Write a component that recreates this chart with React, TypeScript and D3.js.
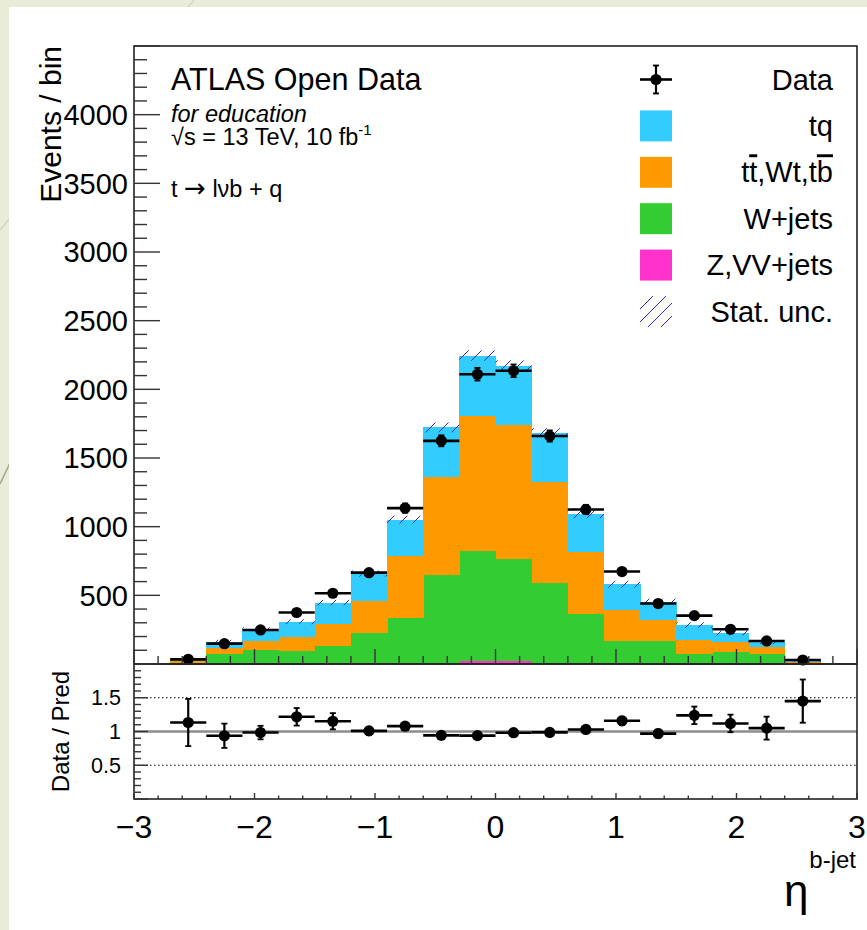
import React from "react";
import * as d3 from "d3";

// Histogram binning in eta of the b-tagged jet (bin lower edges, width 0.3)
const binLow = [-2.7, -2.4, -2.1, -1.8, -1.5, -1.2, -0.9, -0.6, -0.3, 0, 0.3, 0.6, 0.9, 1.2, 1.5, 1.8, 2.1, 2.4];
const binWidth = 0.3;

// Stacked predictions (events per bin), bottom to top
const zvvJets = [1, 2, 2, 3, 5, 6, 7, 9, 22, 20, 8, 6, 5, 2, 1, 1, 1, 0];
const wJets = [9, 73, 100, 92, 126, 218, 331, 638, 802, 748, 583, 361, 165, 168, 74, 84, 70, 3];
const topBkg = [12, 39, 68, 105, 158, 235, 450, 712, 982, 975, 731, 448, 224, 149, 102, 75, 53, 8];
const tqSignal = [8, 44, 82, 108, 158, 200, 264, 364, 440, 430, 361, 277, 187, 135, 107, 66, 36, 9];
const statUnc = [6, 18, 15, 18, 20, 22, 28, 36, 38, 38, 34, 30, 25, 22, 20, 18, 15, 7];

// Observed data and uncertainties
const dataCounts = [34, 148, 248, 375, 515, 665, 1135, 1625, 2110, 2135, 1660, 1125, 673, 440, 352, 253, 168, 29];
const dataErr = [6, 12, 16, 19, 23, 26, 34, 40, 46, 46, 41, 34, 26, 21, 19, 16, 13, 5];
const ratioErr = [0.35, 0.18, 0.1, 0.13, 0.12, 0.06, 0.05, 0.04, 0.03, 0.03, 0.04, 0.04, 0.06, 0.06, 0.13, 0.13, 0.17, 0.32];

// Axis labels
const mainYTicks = [500, 1000, 1500, 2000, 2500, 3000, 3500, 4000];
const ratioYTicks = [0.5, 1, 1.5];
const xTicks = [-3, -2, -1, 0, 1, 2, 3];

const FONT = "'Liberation Sans', Arial, Helvetica, sans-serif";

const W = 867;
const H = 930;
const L = 134;
const R = 857;
const T = 46;
const MB = 664;
const RB = 799;

const colors: Record<string, string> = {
  zvv: "#ff33cc",
  wjets: "#33cc33",
  top: "#ff9900",
  tq: "#33ccff",
};

export default function App() {
  const x = d3.scaleLinear().domain([-3, 3]).range([L, R]);
  const y = d3.scaleLinear().domain([0, 4500]).range([MB, T]);
  const yr = d3.scaleLinear().domain([0, 2]).range([RB, MB]);

  const rows = binLow.map((lo, i) => ({
    lo,
    zvv: zvvJets[i],
    wjets: wJets[i],
    top: topBkg[i],
    tq: tqSignal[i],
  }));
  const keys = ["zvv", "wjets", "top", "tq"];
  const series = d3.stack<any>().keys(keys)(rows);
  const totals = rows.map((r) => r.zvv + r.wjets + r.top + r.tq);
  const ratios = dataCounts.map((d, i) => d / totals[i]);

  // tick positions
  const mainYMinor: number[] = [];
  for (let k = 0; k <= 45; k++) mainYMinor.push(k * 100);
  const ratioYMinor: number[] = [];
  for (let k = 0; k <= 20; k++) ratioYMinor.push(k / 10);
  const xMinor: number[] = [];
  for (let k = -15; k <= 15; k++) xMinor.push(k / 5);

  const tickStroke = "#333";
  const capW = 3;

  const dataPoint = (cx: number, cy: number, x0: number, x1: number, yLo: number, yHi: number, key: string) => (
    <g key={key}>
      <line x1={x0} x2={x1} y1={cy} y2={cy} stroke="#000" strokeWidth={2.6} />
      {Math.abs(yLo - yHi) > 0.5 && (
        <g>
          <line x1={cx} x2={cx} y1={yHi} y2={yLo} stroke="#000" strokeWidth={2.2} />
          <line x1={cx - capW} x2={cx + capW} y1={yHi} y2={yHi} stroke="#000" strokeWidth={1.8} />
          <line x1={cx - capW} x2={cx + capW} y1={yLo} y2={yLo} stroke="#000" strokeWidth={1.8} />
        </g>
      )}
      <circle cx={cx} cy={cy} r={5.6} fill="#000" />
    </g>
  );

  const legendRows = [0, 1, 2, 3, 4, 5].map((i) => 79.5 + 46.4 * i);

  return (
    <svg
      width={W}
      height={H}
      viewBox={`0 0 ${W} ${H}`}
      style={{ position: "absolute", left: 0, top: 0, display: "block" }}
      fontFamily={FONT}
    >
      <defs>
        <pattern id="statHatch" patternUnits="userSpaceOnUse" width={13} height={13}>
          <path d="M-1,14 L14,-1" stroke="#2b2bd0" strokeWidth={1} />
        </pattern>
      </defs>

      {/* slide backdrop */}
      <rect x={0} y={0} width={W} height={H} fill="#e8ecd9" />
      <line x1={194} y1={0} x2={0} y2={230} stroke="#cfd3bd" strokeWidth={1.2} />
      <line x1={40} y1={400} x2={0} y2={484} stroke="#a9a382" strokeWidth={1.5} />
      <rect x={9} y={7} width={W - 9} height={H - 7} fill="#ffffff" />

      {/* stacked predictions */}
      {series.map((s) => (
        <g key={s.key} fill={colors[s.key]} shapeRendering="crispEdges">
          {s.map((d, i) => {
            const x0 = x(binLow[i]);
            const x1 = x(binLow[i] + binWidth);
            const y0 = y(d[0]);
            const y1 = y(d[1]);
            if (y0 - y1 <= 0) return null;
            return <rect key={i} x={x0} y={y1} width={x1 - x0 + 0.5} height={Math.max(1, y0 - y1)} />;
          })}
        </g>
      ))}

      {/* statistical uncertainty band */}
      <g fill="url(#statHatch)">
        {totals.map((t, i) => {
          const x0 = x(binLow[i]);
          const x1 = x(binLow[i] + binWidth);
          const yTop = y(t + statUnc[i]);
          const yBot = y(Math.max(0, t - statUnc[i]));
          return <rect key={i} x={x0} y={yTop} width={x1 - x0} height={yBot - yTop} />;
        })}
      </g>

      {/* data points, main panel */}
      {dataCounts.map((d, i) => {
        const lo = binLow[i];
        const cx = x(lo + binWidth / 2);
        return dataPoint(cx, y(d), x(lo), x(lo + binWidth), y(d - dataErr[i]), y(d + dataErr[i]), `m${i}`);
      })}

      {/* ratio panel reference lines */}
      {[0.5, 1.5].map((r) => (
        <line key={r} x1={L} x2={R} y1={yr(r)} y2={yr(r)} stroke="#000" strokeWidth={1.2} strokeDasharray="1.5 2.5" />
      ))}
      <line x1={L} x2={R} y1={yr(1)} y2={yr(1)} stroke="#8c8c8c" strokeWidth={2.6} />

      {/* data points, ratio panel */}
      {ratios.map((r, i) => {
        const lo = binLow[i];
        const cx = x(lo + binWidth / 2);
        return dataPoint(cx, yr(r), x(lo), x(lo + binWidth), yr(r - ratioErr[i]), yr(r + ratioErr[i]), `r${i}`);
      })}

      {/* frames */}
      <rect x={L} y={T} width={R - L} height={MB - T} fill="none" stroke="#222" strokeWidth={1.6} />
      <rect x={L} y={MB} width={R - L} height={RB - MB} fill="none" stroke="#222" strokeWidth={1.6} />

      {/* main y ticks */}
      <g stroke={tickStroke} strokeWidth={1.4}>
        {mainYMinor.map((v) => (
          <line key={v} x1={L} x2={L + (v % 500 === 0 ? 26 : 13)} y1={y(v)} y2={y(v)} />
        ))}
      </g>
      {/* x ticks at the bottom of both panels */}
      <g stroke={tickStroke} strokeWidth={1.4}>
        {xMinor.map((v, k) => {
          const major = Math.abs(v - Math.round(v)) < 1e-6;
          return (
            <g key={k}>
              <line x1={x(v)} x2={x(v)} y1={MB} y2={MB - (major ? 15 : 8)} />
              <line x1={x(v)} x2={x(v)} y1={RB} y2={RB - (major ? 6 : 3.5)} />
            </g>
          );
        })}
      </g>
      {/* ratio y ticks */}
      <g stroke={tickStroke} strokeWidth={1.4}>
        {ratioYMinor.map((v, k) => (
          <line key={k} x1={L} x2={L + (k % 5 === 0 ? 14 : 7)} y1={yr(v)} y2={yr(v)} />
        ))}
      </g>

      {/* tick labels */}
      <g fontSize={29} textAnchor="end" fill="#000">
        {mainYTicks.map((v) => (
          <text key={v} x={128} y={y(v) + 10.4}>
            {v}
          </text>
        ))}
      </g>
      <g fontSize={21.5} textAnchor="end" fill="#000">
        {ratioYTicks.map((v) => (
          <text key={v} x={121} y={yr(v) + 7.7}>
            {v}
          </text>
        ))}
      </g>
      <g fontSize={32} textAnchor="middle" fill="#000">
        {xTicks.map((v) => (
          <text key={v} x={x(v)} y={838}>
            {v < 0 ? `\u2212${Math.abs(v)}` : `${v}`}
          </text>
        ))}
      </g>

      {/* axis titles */}
      <text transform={`translate(61,${T}) rotate(-90)`} textAnchor="end" fontSize={30}>
        Events / bin
      </text>
      <text transform={`translate(69,${yr(1)}) rotate(-90)`} textAnchor="middle" fontSize={24}>
        Data / Pred
      </text>
      <text x={784} y={906} fontSize={44}>
        η
      </text>
      <text x={856} y={868} fontSize={24} textAnchor="end">
        b-jet
      </text>

      {/* labels */}
      <text x={171} y={90} fontSize={30.5}>
        ATLAS Open Data
      </text>
      <text x={171} y={122} fontSize={23.5} fontStyle="italic">
        for education
      </text>
      <text x={171} y={145} fontSize={23.5}>
        √s = 13 TeV, 10 fb
        <tspan fontSize={15} dy={-10}>-1</tspan>
      </text>
      <text x={171} y={197} fontSize={23.5}>
        t <tspan fontFamily="'DejaVu Sans', sans-serif" fontSize={26}>→</tspan> lνb + q
      </text>

      {/* legend */}
      <g>
        {dataPoint(656, legendRows[0], 640, 672, legendRows[0] + 14, legendRows[0] - 14, "leg")}
        {(["tq", "top", "wjets", "zvv"] as const).map((k, i) => (
          <rect key={k} x={640} y={legendRows[i + 1] - 15.5} width={32} height={31} fill={colors[k]} />
        ))}
        <rect x={640} y={legendRows[5] - 15.5} width={32} height={31} fill="url(#statHatch)" />
        <g fontSize={29} textAnchor="end">
          <text x={833} y={legendRows[0] + 10}>Data</text>
          <text x={833} y={legendRows[1] + 10}>tq</text>
          <text x={833} y={legendRows[2] + 10}>
            t<tspan style={{ textDecoration: "overline" }}>t</tspan>,Wt,t
            <tspan style={{ textDecoration: "overline" }}>b</tspan>
          </text>
          <text x={833} y={legendRows[3] + 10}>W+jets</text>
          <text x={833} y={legendRows[4] + 10}>Z,VV+jets</text>
          <text x={833} y={legendRows[5] + 10}>Stat. unc.</text>
        </g>
      </g>
    </svg>
  );
}
